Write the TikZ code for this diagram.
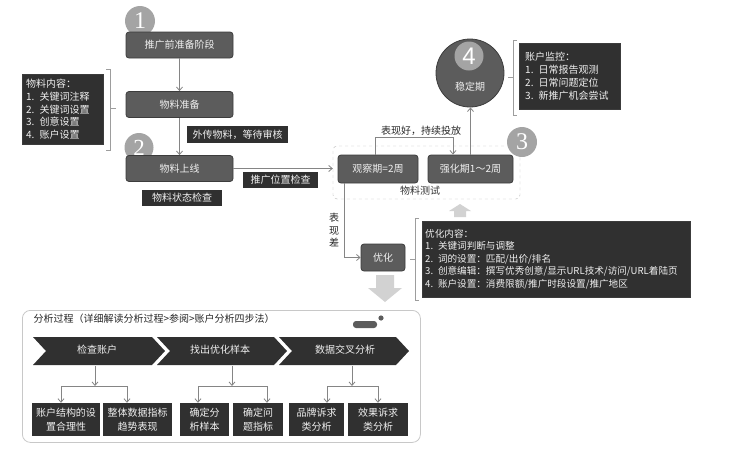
\documentclass[tikz,border=0pt]{standalone}
\usepackage{fontspec}
\setmainfont{Noto Sans CJK SC}
\newfontfamily\numserif{Liberation Serif}
\newfontfamily\numsans{Liberation Sans}
\usetikzlibrary{arrows.meta}
\definecolor{boxg}{HTML}{5C5C5C}
\definecolor{bordg}{HTML}{3C3C3C}
\definecolor{darkg}{HTML}{303030}
\definecolor{circg}{HTML}{A4A4A4}
\definecolor{lineg}{HTML}{858585}
\definecolor{lightg}{HTML}{D2D2D2}
\definecolor{txtw}{HTML}{F0F0F0}
\begin{document}
\begin{tikzpicture}[x=1pt,y=-1pt,
  mainbox/.style={draw=bordg, line width=0.8pt, fill=boxg, rounded corners=3pt, text=txtw,
    minimum width=107pt, minimum height=26pt, inner sep=0pt, font=\fontsize{10}{12}\selectfont},
  darkbox/.style={fill=darkg, draw=bordg, text=txtw, inner sep=0pt, align=left,
    font=\fontsize{10}{12.7}\selectfont},
  tagbox/.style={fill=darkg, text=txtw, inner sep=0pt, font=\fontsize{10}{12}\selectfont},
  numcirc/.style={circle, fill=circg, text=white, minimum size=30pt, inner sep=0pt},
  arr/.style={draw=lineg, line width=0.8pt, -{Straight Barb[length=3.5pt,width=6pt]}},
  brk/.style={draw=lineg!80, line width=0.8pt},
  botbox/.style={fill=darkg, text=txtw, inner sep=0pt, align=center, minimum height=33pt,
    font=\fontsize{10}{13.5}\selectfont},
  chev/.style={fill=darkg},
  chevlab/.style={text=txtw, font=\fontsize{10}{12}\selectfont},
  blockarr/.style={fill=lightg}
]
\useasboundingbox (0,0) rectangle (737,453);

% circles 1 and 2 (behind boxes)
\node[numcirc] (c1) at (140,21) {\numserif\fontsize{24}{24}\selectfont 1};
\node[numcirc, minimum size=29pt] (c2) at (139,147.5) {\numserif\fontsize{23}{23}\selectfont 2};

% main boxes
\node[mainbox] (b1) at (179.5,45) {推广前准备阶段};
\node[mainbox] (b2) at (179.5,104.5) {物料准备};
\node[mainbox] (b3) at (179.5,168.5) {物料上线};

\draw[arr] (b1.south) -- (b2.north);
\draw[arr] (b2.south) -- (b3.north);

% material content box
\node[darkbox, anchor=north west, minimum width=81pt, minimum height=70pt, text width=73pt,
  inner xsep=4pt] (m1) at (22,74) {物料内容：\\1. 关键词注释\\2. 关键词设置\\3. 创意设置\\4. 账户设置};
\draw[brk] (106,69) -- (110,69) -- (110,150) -- (106,150);
\draw[brk] (110,108) -- (116,108);

% tags
\node[tagbox, minimum width=101pt, minimum height=17pt] (l1) at (237.5,134.5) {外传物料，等待审核};
\node[tagbox, minimum width=75pt, minimum height=16pt] (l2) at (280.5,180) {推广位置检查};
\node[tagbox, minimum width=80pt, minimum height=16pt] (l3) at (182,198) {物料状态检查};

% test region
\node[draw=lineg!60, dashed, rounded corners=4pt, minimum width=187pt, minimum height=53pt,
  inner sep=0pt] (test) at (426.5,172.5) {};
\node[mainbox, minimum width=80pt, minimum height=28pt] (o1) at (378,169) {观察期=2周};
\node[mainbox, minimum width=85pt, minimum height=28pt] (o2) at (470.5,169) {强化期1～2周};
\node[font=\fontsize{10}{12}\selectfont, text=black!80] (tl) at (420,190.5) {物料测试};
\node[numcirc] (c3) at (522,142) {\numserif\fontsize{24}{24}\selectfont 3};

\draw[arr] (b3.east) -- (b3.east -| test.west);

% stable period
\node[circle, fill=boxg, draw=bordg, line width=0.8pt, minimum size=68pt, inner sep=0pt] (c4) at (470,73) {};
\node[numcirc, minimum size=29pt] (c4n) at (469,56) {\numsans\fontsize{24}{24}\selectfont 4};
\node[text=txtw, font=\fontsize{10}{12}\selectfont] (c4t) at (470,87) {稳定期};
\draw[arr] (o2.north) -- (o2.north |- c4.south);

\draw[brk] (517,40) -- (513,40) -- (513,115) -- (517,115);
\draw[brk] (513,77) -- (508,77);
\node[darkbox, anchor=north west, minimum width=101pt, minimum height=66pt, text width=89pt,
  inner xsep=6pt] (m2) at (519,43) {账户监控：\\1. 日常报告观测\\2. 日常问题定位\\3. 新推广机会尝试};

% good performance path
\draw[arr] ([xshift=-3pt]o1.north) -- ++(0,-17) -| ([xshift=-17.5pt]o2.north);
\node[font=\fontsize{10}{12}\selectfont, text=black!85] (gd) at (421,131) {表现好，持续投放};

% bad performance path
\node[mainbox, minimum width=44pt, minimum height=27pt] (y1) at (383,257.5) {优化};
\draw[arr] ([xshift=-34pt]o1.south) |- (y1.west);
\node[font=\fontsize{10}{12.5}\selectfont, align=center, text=black!85] (bd) at (334,230) {表\\现\\差};

\draw[brk] (419,218) -- (415,218) -- (415,300) -- (419,300);
\draw[brk] (415,259) -- (410,259);
\node[darkbox, anchor=north west, minimum width=268pt, minimum height=76pt, text width=262pt,
  inner xsep=3pt, font=\fontsize{9.6}{12.5}\selectfont] (m3) at (422,221)
  {优化内容：\\1. 关键词判断与调整\\2. 词的设置：匹配/出价/排名\\3. 创意编辑：撰写优秀创意/显示URL技术/访问/URL着陆页\\4. 账户设置：消费限额/推广时段设置/推广地区};

% light block arrows
\fill[blockarr] (449,211) -- (460,204) -- (471,211) -- (466,211) -- (466,217) -- (454,217) -- (454,211) -- cycle;
\fill[blockarr] (376,275) -- (394,275) -- (394,288) -- (402,288) -- (385,302) -- (368,288) -- (376,288) -- cycle;

% analysis panel
\node[draw=lineg!45, line width=0.8pt, rounded corners=8pt, minimum width=398pt, minimum height=132pt,
  inner sep=0pt, anchor=north west] (panel) at (22,310) {};
\node[anchor=west, font=\fontsize{10}{12}\selectfont, text=black!85] (ptitle) at (30,319)
  {分析过程（详细解读分析过程>参阅>账户分析四步法）};
\fill[boxg, rounded corners=3pt] (353,321) rectangle (377,328);
\fill[boxg] (381,318) circle (2.6pt);

% chevrons
\fill[chev] (33,337) -- (152,337) -- (165,351) -- (152,365) -- (33,365) -- (46,351) -- cycle;
\fill[chev] (157,337) -- (274,337) -- (287,351) -- (274,365) -- (157,365) -- (170,351) -- cycle;
\fill[chev] (279,337) -- (396,337) -- (409,351) -- (396,365) -- (279,365) -- (292,351) -- cycle;
\node[chevlab] (h1) at (97,350) {检查账户};
\node[chevlab] (h2) at (220,350) {找出优化样本};
\node[chevlab] (h3) at (345,350) {数据交叉分析};

% bottom boxes
\node[botbox, minimum width=68pt] (k1) at (66,419.5) {账户结构的设\\置合理性};
\node[botbox, minimum width=69pt] (k2) at (137.5,419.5) {整体数据指标\\趋势表现};
\node[botbox, minimum width=49pt] (k3) at (204.5,419.5) {确定分\\析样本};
\node[botbox, minimum width=50pt] (k4) at (258,419.5) {确定问\\题指标};
\node[botbox, minimum width=55pt] (k5) at (316.5,419.5) {品牌诉求\\类分析};
\node[botbox, minimum width=60pt] (k6) at (378,419.5) {效果诉求\\类分析};

% fork connectors
\coordinate (s1) at (95,366); \coordinate (f1) at (95,386);
\coordinate (s2) at (232,366); \coordinate (f2) at (232,386);
\coordinate (s3) at (352,366); \coordinate (f3) at (352,386);
\draw[arr] (s1) -- (f1);
\draw[arr] (s2) -- (f2);
\draw[arr] (s3) -- (f3);
\draw[arr] (f1) -| ([xshift=-5pt]k1.north);
\draw[arr] (f1) -| ([xshift=-10.5pt]k2.north);
\draw[arr] (f2) -| ([xshift=-6.5pt]k3.north);
\draw[arr] (f2) -| ([xshift=9pt]k4.north);
\draw[arr] (f3) -| ([xshift=10.5pt]k5.north);
\draw[arr] (f3) -| ([xshift=0pt]k6.north);
\end{tikzpicture}
\end{document}
